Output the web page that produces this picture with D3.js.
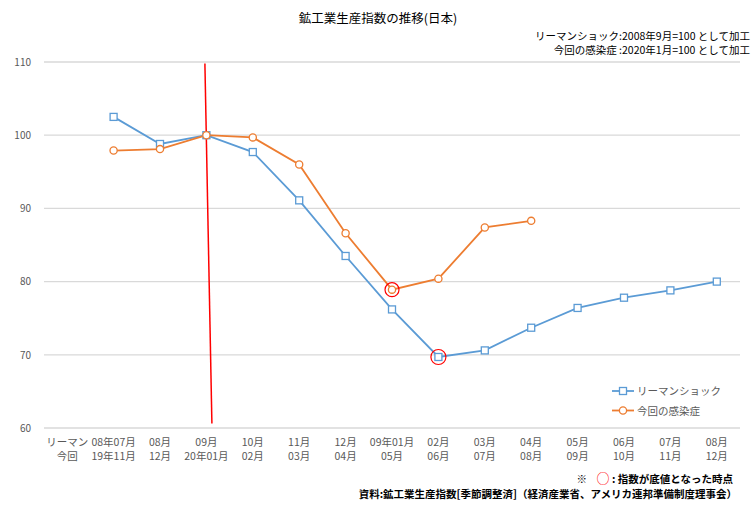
<!DOCTYPE html>
<html><head><meta charset="utf-8">
<script src="https://cdn.jsdelivr.net/npm/d3@7"></script>
<style>
body{margin:0;background:#fff;}
text{font-family:"Noto Sans CJK JP","Noto Sans",sans-serif;white-space:pre;}
</style></head>
<body><svg id="c" width="756" height="529"></svg>
<script>
const rowLehman = ["リーマン","08年07月","08月","09月","10月","11月","12月","09年01月","02月","03月","04月","05月","06月","07月","08月"];
const rowCovid  = ["今回","19年11月","12月","20年01月","02月","03月","04月","05月","06月","07月","08月","09月","10月","11月","12月"];
const lehman = [null,102.5,98.8,100.0,97.7,91.1,83.5,76.2,69.7,70.6,73.7,76.4,77.8,78.8,80.0];
const covid  = [null,97.9,98.1,100.0,99.7,96.0,86.6,78.9,80.4,87.4,88.3,null,null,null,null];
const yTicks = [60,70,80,90,100,110];
const seriesNames = ["リーマンショック","今回の感染症"];
const bottoms = [{s:1,i:7},{s:0,i:8}];

const svg = d3.select("#c");
const L=44,R=740,T=62,B=428;
const idx = d3.range(rowLehman.length);
const x = d3.scaleBand().domain(idx).range([L,R]);
const cx = i => x(i)+x.bandwidth()/2;
const y = d3.scaleLinear().domain([60,110]).range([B,T]);
const blue="#5B9BD5", orange="#ED7D31", red="#FF0000";

// gridlines
svg.append("g").selectAll("line").data(yTicks).join("line")
  .attr("x1",L).attr("x2",R).attr("y1",d=>y(d)).attr("y2",d=>y(d))
  .attr("stroke","#d9d9d9").attr("stroke-width",1.3);
const yAxis = svg.append("g").attr("transform",`translate(${L},0)`)
  .call(d3.axisLeft(y).tickValues(yTicks).tickSize(0).tickPadding(13));
yAxis.select(".domain").remove();
yAxis.selectAll("text").attr("font-size",10).attr("fill","#595959").attr("font-family","Liberation Sans, Arial, sans-serif");

// x labels
const xl = svg.append("g");
xl.selectAll("text.a").data(idx).join("text").attr("class","a")
  .attr("x",cx).attr("y",446).attr("text-anchor","middle")
  .attr("font-size",10.5).attr("fill","#595959").text(i=>rowLehman[i]);
xl.selectAll("text.b").data(idx).join("text").attr("class","b")
  .attr("x",cx).attr("y",460).attr("text-anchor","middle")
  .attr("font-size",10.5).attr("fill","#595959").text(i=>rowCovid[i]);

// red vertical line (annotation)
svg.append("line").attr("x1",cx(3)-1.5).attr("y1",y(109.8)).attr("x2",cx(3)+5.5).attr("y2",y(60.6))
  .attr("stroke",red).attr("stroke-width",1.5);

const series=[{v:lehman,c:blue,m:"sq"},{v:covid,c:orange,m:"ci"}];
const line = d3.line().defined(d=>d.v!=null).x(d=>cx(d.i)).y(d=>y(d.v));
series.forEach(s=>{
  const pts = s.v.map((v,i)=>({i,v})).filter(d=>d.v!=null);
  svg.append("path").datum(pts).attr("d",line).attr("fill","none")
    .attr("stroke",s.c).attr("stroke-width",1.8);
});
series.forEach(s=>{
  const pts = s.v.map((v,i)=>({i,v})).filter(d=>d.v!=null);
  const g=svg.append("g");
  if(s.m==="sq"){
    g.selectAll("rect").data(pts).join("rect")
      .attr("x",d=>cx(d.i)-3.5).attr("y",d=>y(d.v)-3.5).attr("width",7).attr("height",7)
      .attr("fill","#fff").attr("stroke",s.c).attr("stroke-width",1.3);
  } else {
    g.selectAll("circle").data(pts).join("circle")
      .attr("cx",d=>cx(d.i)).attr("cy",d=>y(d.v)).attr("r",3.6)
      .attr("fill","#fff").attr("stroke",s.c).attr("stroke-width",1.3);
  }
});
// bottom circles
svg.append("g").selectAll("circle").data(bottoms).join("circle")
  .attr("cx",d=>cx(d.i)).attr("cy",d=>y(series[d.s].v[d.i]))
  .attr("r",d=>d.s===0?7.5:7).attr("fill","none").attr("stroke",red).attr("stroke-width",1.2);

// legend
const lg = svg.append("g");
seriesNames.forEach((n,k)=>{
  const yy=391+k*19.5;
  lg.append("line").attr("x1",612).attr("x2",634).attr("y1",yy).attr("y2",yy).attr("stroke",series[k].c).attr("stroke-width",1.8);
  if(k===0) lg.append("rect").attr("x",623-3.5).attr("y",yy-3.5).attr("width",7).attr("height",7).attr("fill","#fff").attr("stroke",blue).attr("stroke-width",1.3);
  else lg.append("circle").attr("cx",623).attr("cy",yy).attr("r",3.6).attr("fill","#fff").attr("stroke",orange).attr("stroke-width",1.3);
  lg.append("text").attr("x",637).attr("y",yy+4).attr("font-size",10.5).attr("fill","#595959").text(n);
});

// titles
svg.append("text").attr("x",378).attr("y",23).attr("text-anchor","middle").attr("font-size",12.5).attr("fill","#000").text("鉱工業生産指数の推移(日本)");
svg.append("text").attr("x",750).attr("y",40).attr("text-anchor","end").attr("font-size",10.5).attr("fill","#000").text("リーマンショック:2008年9月=100 として加工");
svg.append("text").attr("x",750).attr("y",54).attr("text-anchor","end").attr("font-size",10.5).attr("fill","#000").text("今回の感染症\u00a0:2020年1月=100 として加工");

// footnotes
const f1 = svg.append("text").attr("x",733).attr("y",483).attr("text-anchor","end").attr("font-size",10.5).attr("font-weight","bold").attr("fill","#000");
f1.append("tspan").text("※\u00a0\u00a0\u00a0 ");
f1.append("tspan").attr("fill",red).attr("font-weight","normal").attr("font-size",13).text("○");
f1.append("tspan").text(" : 指数が底値となった時点");
svg.append("text").attr("x",737).attr("y",498).attr("text-anchor","end").attr("font-size",10.5).attr("font-weight","bold").attr("fill","#000")
  .text("資料:鉱工業生産指数[季節調整済]（経済産業省、アメリカ連邦準備制度理事会）");
</script></body></html>
